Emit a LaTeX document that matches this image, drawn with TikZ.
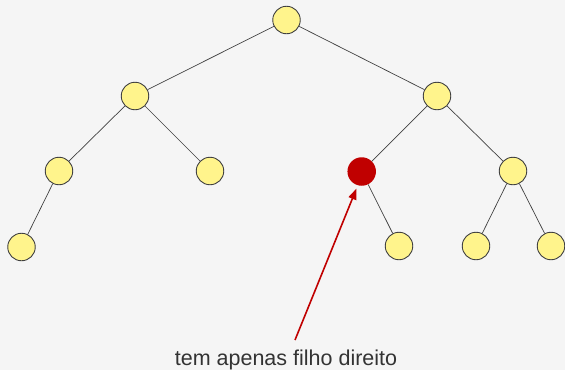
\documentclass[tikz,border=0pt]{standalone}
\usepackage{fontspec}
\setmainfont{Liberation Sans}
\usetikzlibrary{arrows.meta}
\definecolor{bg}{HTML}{F5F5F5}
\definecolor{nodey}{HTML}{FFF48C}
\definecolor{noder}{HTML}{C00000}
\definecolor{edgec}{HTML}{404040}
\definecolor{txt}{HTML}{333333}
\begin{document}
\begin{tikzpicture}[x=1pt,y=-1pt,
  tnode/.style={circle,draw=edgec,line width=0.9pt,fill=nodey,minimum size=27.5pt,inner sep=0pt},
  rnode/.style={circle,fill=noder,minimum size=28.5pt,inner sep=0pt},
  edge/.style={draw=edgec,line width=0.7pt},
  pointer/.style={draw=noder,line width=1.6pt,-{Triangle[length=11pt,width=8pt]}}]
\fill[bg] (0,0) rectangle (565,370);
\useasboundingbox (0,0) rectangle (565,370);
\node[tnode] (r) at (286.5,20) {};
\node[tnode] (l) at (135,96) {};
\node[tnode] (rt) at (437,96) {};
\node[tnode] (ll) at (59,171) {};
\node[tnode] (lr) at (210,171) {};
\node[rnode] (rl) at (361.7,171.5) {};
\node[tnode] (rr) at (513,171) {};
\node[tnode] (lll) at (21.5,247) {};
\node[tnode] (rlr) at (399,246) {};
\node[tnode] (rrl) at (476,246) {};
\node[tnode] (rrr) at (551,246) {};
\draw[edge] (r) -- (l);
\draw[edge] (r) -- (rt);
\draw[edge] (l) -- (ll);
\draw[edge] (l) -- (lr);
\draw[edge] (rt) -- (rl);
\draw[edge] (rt) -- (rr);
\draw[edge] (ll) -- (lll);
\draw[edge] (rl) -- (rlr);
\draw[edge] (rr) -- (rrl);
\draw[edge] (rr) -- (rrr);
\node[anchor=base,text=txt,font=\fontsize{21.5}{24}\selectfont,inner sep=0pt] (lbl) at (286,365.5) {tem apenas filho direito};
\coordinate (start) at (295,340);
\draw[pointer] (start) -- (356.5,188.5);
\end{tikzpicture}
\end{document}
